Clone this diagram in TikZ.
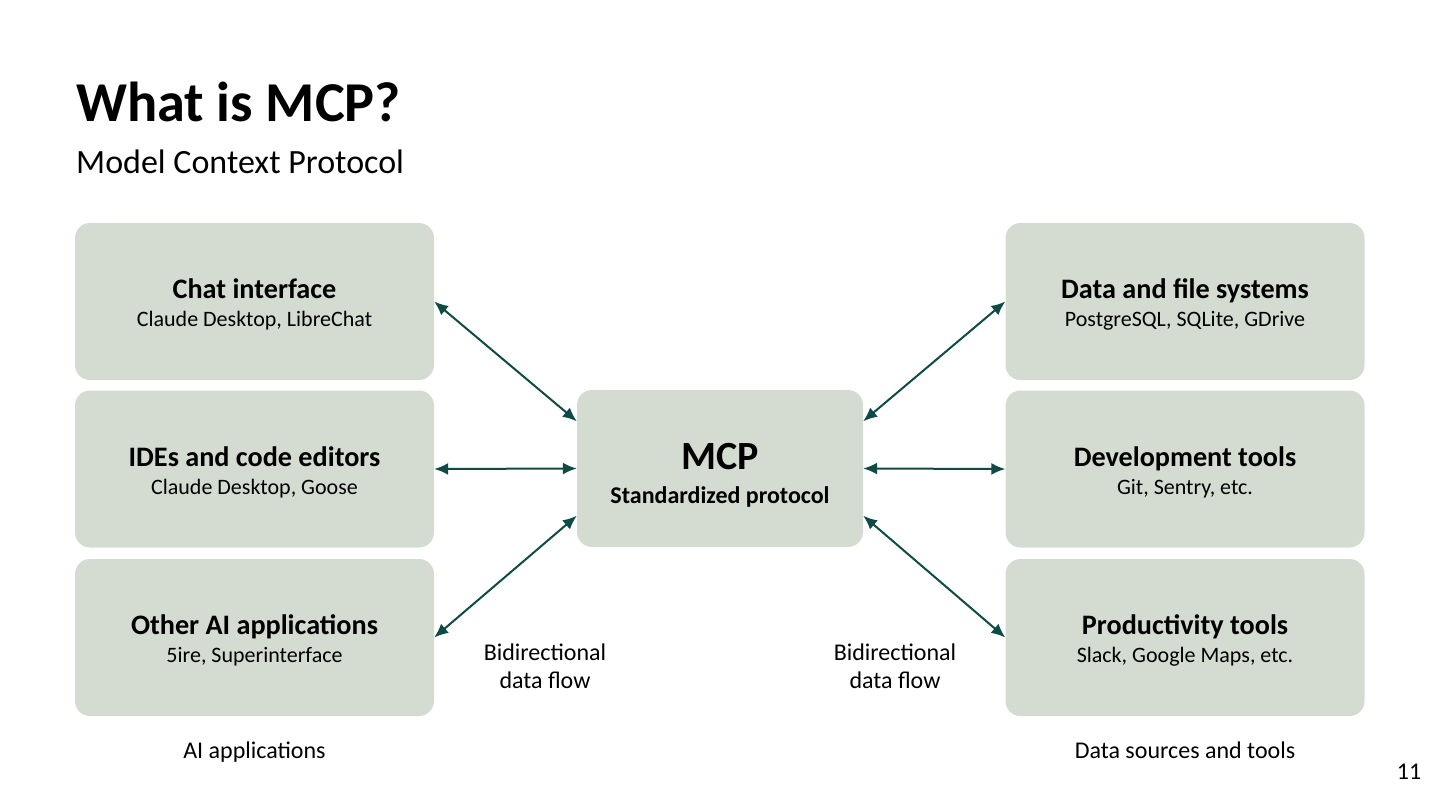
\documentclass[tikz,border=0pt]{standalone}
\usepackage{fontspec}
\setmainfont{Carlito}
\usepackage{tikz}
\usetikzlibrary{arrows.meta}
\usetikzlibrary{calc}
\usepackage{xcolor}

\definecolor{boxgreen}{HTML}{D4DBD0}
\definecolor{flowteal}{HTML}{0D4B44}

\newcommand{\boxtext}[2]{{\bfseries\fontsize{28.2}{28}\selectfont\rule{0pt}{26.5pt}#1}\\{\fontsize{22}{28}\selectfont #2}}

\begin{document}
\begin{tikzpicture}[x=1pt, y=-1pt,
    appbox/.style={fill=boxgreen, rounded corners=15pt, minimum width=359pt,
        minimum height=157pt, align=center, inner sep=0pt,
        font=\fontsize{22}{28}\selectfont},
    flow/.style={{Latex[length=14pt,width=12pt]}-{Latex[length=14pt,width=12pt]},
        line width=2pt, flowteal},
    note/.style={align=center, font=\fontsize{24}{28}\selectfont}]
    \useasboundingbox (0,0) rectangle (1440,810);

    % Title
    \node[anchor=base west, inner sep=0pt, font=\bfseries\fontsize{56.3}{66}\selectfont] (title) at (76,122) {What is MCP?};
    \node[anchor=base west, inner sep=0pt, font=\fontsize{34}{40}\selectfont] (subtitle) at (76,174) {Model Context Protocol};

    % AI applications
    \node[appbox] (chat) at (254.5,301.5) {\boxtext{Chat interface}{Claude Desktop, LibreChat}};
    \node[appbox] (ide) at (254.5,469) {\boxtext{IDEs and code editors}{Claude Desktop, Goose}};
    \node[appbox] (other) at (254.5,637.5) {\boxtext{Other AI applications}{5ire, Superinterface}};

    % Protocol
    \node[appbox, minimum width=286pt] (mcp) at (720,468.5)
        {{\bfseries\fontsize{40}{44}\selectfont\rule{0pt}{40pt}MCP}\\[6pt]{\bfseries\fontsize{24}{34}\selectfont Standardized protocol}};

    % Data sources and tools
    \node[appbox] (data) at (1185,301.5) {\boxtext{Data and file systems}{PostgreSQL, SQLite, GDrive}};
    \node[appbox] (dev) at (1185,469) {\boxtext{Development tools}{Git, Sentry, etc.}};
    \node[appbox] (prod) at (1185,637.5) {\boxtext{Productivity tools}{Slack, Google Maps, etc.}};

    % Data flow
    \draw[flow] (chat.east) -- ($(mcp.north west)!0.2!(mcp.south west)$);
    \draw[flow] (ide.east) -- (mcp.west);
    \draw[flow] (other.east) -- ($(mcp.north west)!0.8!(mcp.south west)$);
    \draw[flow] (data.west) -- ($(mcp.north east)!0.2!(mcp.south east)$);
    \draw[flow] (dev.west) -- (mcp.east);
    \draw[flow] (prod.west) -- ($(mcp.north east)!0.8!(mcp.south east)$);

    % Labels
    \node[note] (flowleft) at (545,666) {Bidirectional\\data flow};
    \node[note] (flowright) at (895,666) {Bidirectional\\data flow};
    \node[note, anchor=base] (applabel) at (254.5,758) {AI applications};
    \node[note, anchor=base] (toollabel) at (1185,758) {Data sources and tools};
    \node[note, anchor=base] (page) at (1409,779) {11};
\end{tikzpicture}
\end{document}
